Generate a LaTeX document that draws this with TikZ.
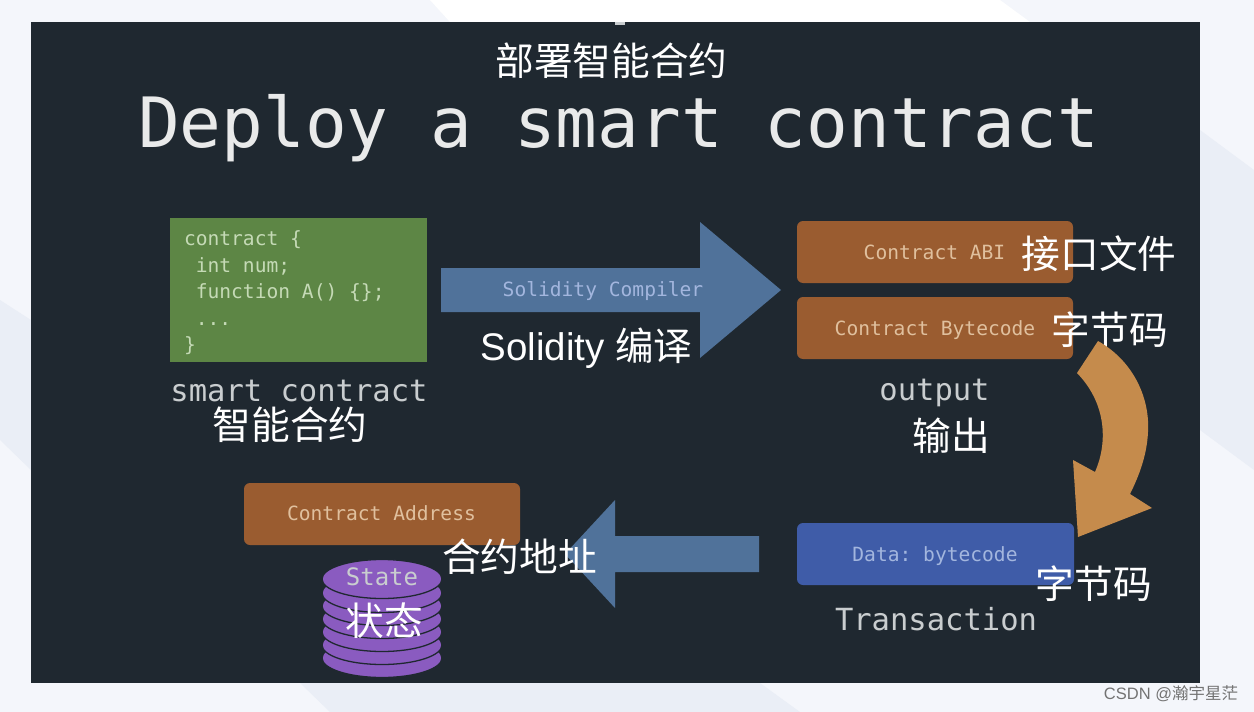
\documentclass[tikz,border=0pt]{standalone}
\usepackage{fontspec}
\setmainfont{Liberation Sans}
\setmonofont{DejaVu Sans Mono}
\newfontfamily\cjk{Noto Sans CJK SC}
\usetikzlibrary{shapes.geometric}
\definecolor{pagebg}{HTML}{F4F6FB}
\definecolor{pagefold}{HTML}{EAEEF6}
\definecolor{slidebg}{HTML}{1F2830}
\definecolor{codegreen}{HTML}{5D8645}
\definecolor{boxbrown}{HTML}{9A5C30}
\definecolor{boxblue}{HTML}{3F5CA8}
\definecolor{arrowblue}{HTML}{50729A}
\definecolor{arroworange}{HTML}{C58B4C}
\definecolor{statepurple}{HTML}{8A5BC0}
\definecolor{softtext}{HTML}{C9CDCF}
\definecolor{browntext}{HTML}{E0C09E}
\definecolor{bluetext}{HTML}{A3B6DE}
\definecolor{greentext}{HTML}{C5DAB6}
\tikzset{
  x=1pt,y=-1pt,
  txt/.style={inner sep=0pt,outer sep=0pt,anchor=center},
  cjklabel/.style={txt,text=white,font=\cjk\fontsize{38.7}{40}\selectfont},
  biglabel/.style={txt,text=softtext,font=\ttfamily\fontsize{30.5}{34}\selectfont},
  boxlabel/.style={txt,font=\ttfamily\fontsize{19.6}{22}\selectfont},
  roundbox/.style={rounded corners=6pt,draw=none,inner sep=0pt,outer sep=0pt},
  disc/.style={ellipse,fill=statepurple,draw=slidebg,line width=1.3pt,minimum width=120pt,minimum height=39pt,inner sep=0pt}
}
\begin{document}
\begin{tikzpicture}
\useasboundingbox (0,0) rectangle (1254,712);
\fill[pagebg] (0,0) rectangle (1254,712);
\fill[pagefold] (1200,130) -- (1254,170) -- (1254,470) -- (1200,430) -- cycle;
\fill[pagefold] (0,300) -- (31,320) -- (31,470) -- (0,440) -- cycle;
\fill[pagefold] (300,683) -- (760,683) -- (800,712) -- (330,712) -- cycle;
\fill[white] (430,0) -- (1000,0) -- (1030,22) -- (450,22) -- cycle;
\fill[slidebg] (31,22) rectangle (1200,683);
\fill[softtext] (615,22) rectangle (625,25);

\node[cjklabel] (titlecn) at (611.5,61) {部署智能合约};
\node[txt,text=white!90!slidebg,font=\ttfamily\fontsize{69.4}{72}\selectfont] (title) at (618.5,128) {Deploy a smart contract};

\node[fill=codegreen,minimum width=257pt,minimum height=144pt,inner sep=0pt] (code) at (298.5,290) {};
\node[txt,anchor=north west,text=greentext,font=\ttfamily\fontsize{19.6}{26.5}\selectfont,align=left] (codetext) at (184,231) {contract \{\\\ int num;\\\ function A() \{\};\\\ ...\\\}};
\node[biglabel] (smart) at (299,391) {smart contract};
\node[cjklabel] (smartcn) at (290,425) {智能合约};

\fill[arrowblue] (441,268) -- (700,268) -- (700,222) -- (781,290) -- (700,358) -- (700,312) -- (441,312) -- cycle;
\node[boxlabel,text=bluetext] (compiler) at (603,291.5) {Solidity Compiler};
\node[txt,text=white,font=\fontsize{38.5}{40}\selectfont] (soliditycn) at (586.5,348) {Solidity {\cjk 编译}};

\node[roundbox,fill=boxbrown,minimum width=276pt,minimum height=62pt] (abi) at (935,252) {};
\node[boxlabel,text=browntext] (abitext) at (934.5,252) {Contract ABI};
\node[cjklabel] (abicn) at (1099,254) {接口文件};
\node[roundbox,fill=boxbrown,minimum width=276pt,minimum height=62pt] (bytecode) at (935,328) {};
\node[boxlabel,text=browntext] (bytetext) at (935,330.5) {Contract Bytecode};
\node[cjklabel] (bytecn) at (1110,330) {字节码};
\node[biglabel] (output) at (934.5,393) {output};
\node[cjklabel] (outputcn) at (951,436) {输出};

\fill[arroworange] (1098,341)
  .. controls (1135,362) and (1150,400) .. (1148,432)
  .. controls (1147,455) and (1139,476) .. (1130,494)
  -- (1152,508) -- (1078,537) -- (1073,460) -- (1095,472)
  .. controls (1107,445) and (1108,405) .. (1077,373) -- cycle;

\node[roundbox,fill=boxblue,minimum width=277pt,minimum height=62pt] (data) at (935.5,554) {};
\node[boxlabel,text=bluetext] (datatext) at (935,556) {Data: bytecode};
\node[biglabel] (transaction) at (936,619) {Transaction};
\node[cjklabel] (datacn) at (1094,584) {字节码};

\fill[arrowblue] (759,536) -- (615,536) -- (615,500) -- (565,554) -- (615,608) -- (615,572) -- (759,572) -- cycle;

\node[roundbox,fill=boxbrown,minimum width=276pt,minimum height=62pt] (address) at (382,514) {};
\node[boxlabel,text=browntext] (addresstext) at (381.5,513) {Contract Address};
\node[cjklabel] (addresscn) at (519.5,557) {合约地址};

\foreach \y/\n in {658/a,645/b,632/c,619/d,606/e,593/f}{
  \node[disc] (disc\n) at (382,\y) {};
}
\node[disc] (disctop) at (382,579) {};
\node[txt,text=softtext,font=\ttfamily\fontsize{24}{26}\selectfont] (state) at (382,577) {State};
\node[cjklabel] (statecn) at (384,621) {状态};

\node[txt,text=black!55,font=\fontsize{16.5}{18}\selectfont] (mark) at (1171,694) {CSDN @{\cjk 瀚宇星茫}};
\end{tikzpicture}
\end{document}
